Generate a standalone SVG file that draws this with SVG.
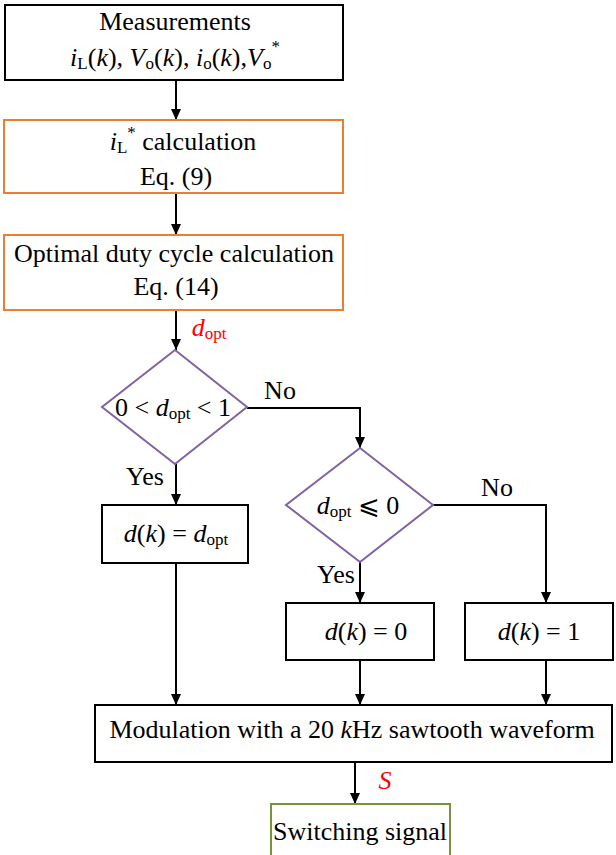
<svg xmlns="http://www.w3.org/2000/svg" width="616" height="855" viewBox="0 0 616 855">
<style>
text{font-family:"Liberation Serif","Times New Roman","DejaVu Serif",serif;font-size:26px;fill:#000;text-anchor:middle}
.i{font-style:italic}
.s{font-size:17px}
.red{fill:#ff0000}
.bk{fill:#fff;stroke:#000;stroke-width:2}
.or{fill:#fff;stroke:#ED7D31;stroke-width:2}
.pu{fill:#fff;stroke:#8064A2;stroke-width:2}
.gr{fill:#fff;stroke:#77933C;stroke-width:2}
.c{fill:none;stroke:#000;stroke-width:2;marker-end:url(#ah)}
</style>
<defs>
<marker id="ah" markerUnits="userSpaceOnUse" markerWidth="12" markerHeight="12" refX="11" refY="5" orient="auto">
<path d="M0,0 L11,5 L0,10 Z" fill="#000"/>
</marker>
</defs>
<rect width="616" height="855" fill="#fff"/>
<g id="connectors">
<path class="c" d="M176,80 V120"/>
<path class="c" d="M176,193 V235"/>
<path class="c" d="M176,310 V350"/>
<path class="c" d="M176,464 V505"/>
<path class="c" d="M247,408 H360 V448"/>
<path class="c" d="M360,562 V603"/>
<path class="c" d="M433,505 H546 V603"/>
<path class="c" d="M176,563 V705"/>
<path class="c" d="M360,660 V705"/>
<path class="c" d="M546,660 V705"/>
<path class="c" d="M355,762 V804"/>
<text x="209" y="336" class="i red">d<tspan class="s" font-style="normal" dy="3">opt</tspan></text>
<text x="280" y="399">No</text>
<text x="145" y="485">Yes</text>
<text x="497" y="496">No</text>
<text x="336" y="583">Yes</text>
<text x="385" y="789" class="i red">S</text>
</g>
<g id="measurements">
<rect class="bk" x="5" y="5" width="338" height="75"/>
<text x="175" y="30">Measurements</text>
<text x="175" y="66"><tspan class="i">i</tspan><tspan class="s" dy="3">L</tspan><tspan dy="-3">(</tspan><tspan class="i">k</tspan>), <tspan class="i">V</tspan><tspan class="s" dy="3">o</tspan><tspan dy="-3">(</tspan><tspan class="i">k</tspan>), <tspan class="i">i</tspan><tspan class="s" dy="3">o</tspan><tspan dy="-3">(</tspan><tspan class="i">k</tspan>),<tspan class="i">V</tspan><tspan class="s" dy="3">o</tspan><tspan class="s" dy="-17">*</tspan></text>
</g>
<g id="il-calc">
<rect class="or" x="4" y="120" width="339" height="73"/>
<text x="183" y="150"><tspan class="i">i</tspan><tspan class="s" dy="3">L</tspan><tspan class="s" dy="-15">*</tspan><tspan dy="12"> calculation</tspan></text>
<text x="176" y="185">Eq. (9)</text>
</g>
<g id="duty-calc">
<rect class="or" x="4" y="235" width="339" height="75"/>
<text x="174" y="262">Optimal duty cycle calculation</text>
<text x="176" y="295">Eq. (14)</text>
</g>
<g id="dec1">
<polygon class="pu" points="175,350 247,407 175,464 102,407"/>
<text x="173" y="416">0 &lt; <tspan class="i">d</tspan><tspan class="s" dy="3">opt</tspan><tspan dy="-3"> &lt; 1</tspan></text>
</g>
<g id="dopt-box">
<rect class="bk" x="102" y="505" width="146" height="58"/>
<text x="176" y="542"><tspan class="i">d</tspan>(<tspan class="i">k</tspan>) = <tspan class="i">d</tspan><tspan class="s" dy="3">opt</tspan></text>
</g>
<g id="dec2">
<polygon class="pu" points="360,448 433,505 360,562 286,505"/>
<text x="358" y="514"><tspan class="i">d</tspan><tspan class="s" dy="3">opt</tspan><tspan dy="-3"> ⩽ 0</tspan></text>
</g>
<g id="zero-box">
<rect class="bk" x="286" y="603" width="148" height="57"/>
<text x="366" y="640"><tspan class="i">d</tspan>(<tspan class="i">k</tspan>) = 0</text>
</g>
<g id="one-box">
<rect class="bk" x="465" y="603" width="148" height="57"/>
<text x="539" y="640"><tspan class="i">d</tspan>(<tspan class="i">k</tspan>) = 1</text>
</g>
<g id="modulation">
<rect class="bk" x="95" y="705" width="517" height="57"/>
<text x="352" y="738">Modulation with a 20 <tspan class="i">k</tspan>Hz sawtooth waveform</text>
</g>
<g id="switching">
<rect class="gr" x="271" y="804" width="179" height="60"/>
<text x="360" y="840">Switching signal</text>
</g>
</svg>
